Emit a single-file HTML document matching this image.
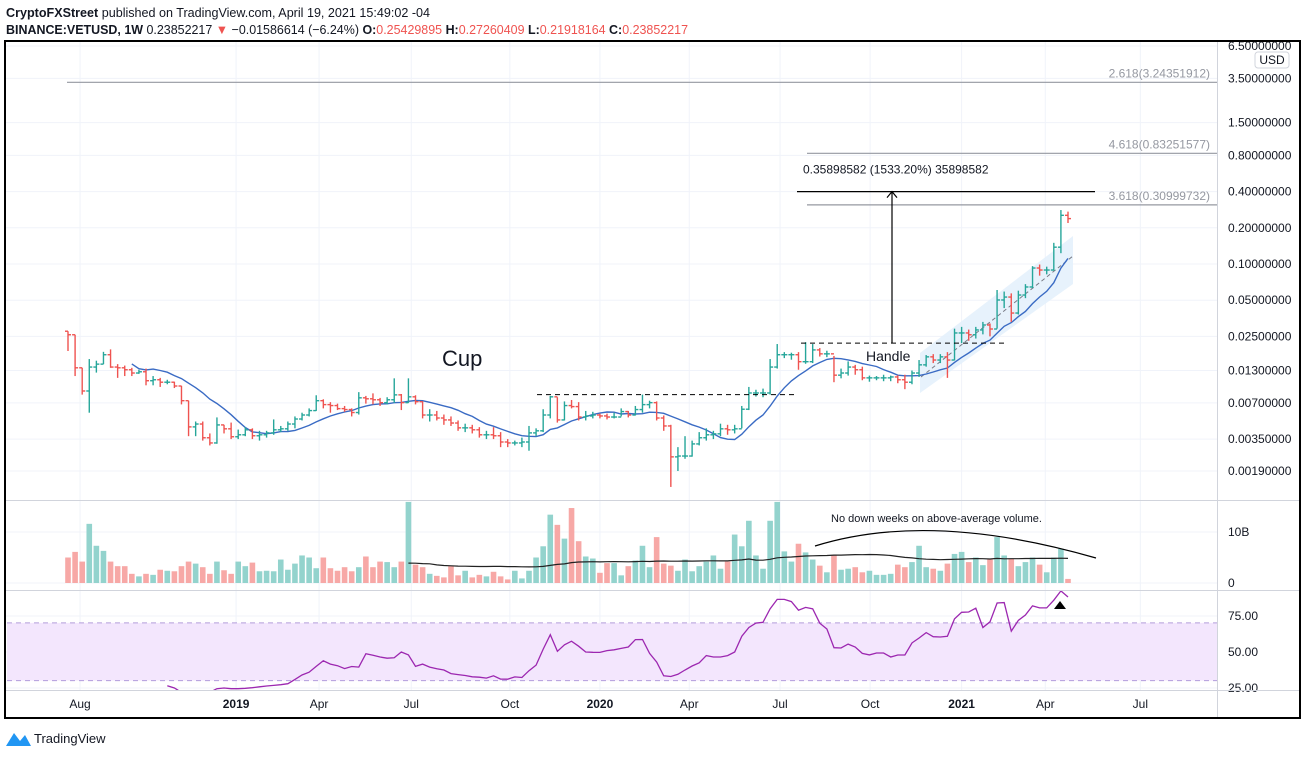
<!DOCTYPE html>
<html><head><meta charset="utf-8"><style>
body{margin:0;background:#fff;width:1307px;height:755px;overflow:hidden;font-family:"Liberation Sans",sans-serif}
svg text{font-family:"Liberation Sans",sans-serif}
</style></head><body>
<svg id="chart" width="1307" height="755" xmlns="http://www.w3.org/2000/svg">
<defs>
<clipPath id="mainClip"><rect x="6" y="42" width="1211" height="458"/></clipPath>
<clipPath id="volClip"><rect x="6" y="501" width="1211" height="89"/></clipPath>
<clipPath id="rsiClip"><rect x="6" y="591" width="1211" height="99"/></clipPath>
</defs>
<text x="6" y="17" font-size="13" fill="#131722" textLength="424" lengthAdjust="spacingAndGlyphs"><tspan font-weight="bold">CryptoFXStreet</tspan> published on TradingView.com, April 19, 2021 15:49:02 -04</text>
<text x="6" y="34" font-size="13" fill="#131722" textLength="682" lengthAdjust="spacingAndGlyphs"><tspan font-weight="bold">BINANCE:VETUSD, 1W</tspan> 0.23852217 <tspan fill="#ef5350">▼</tspan> −0.01586614 (−6.24%) <tspan font-weight="bold">O:</tspan><tspan fill="#ef5350">0.25429895</tspan> <tspan font-weight="bold">H:</tspan><tspan fill="#ef5350">0.27260409</tspan> <tspan font-weight="bold">L:</tspan><tspan fill="#ef5350">0.21918164</tspan> <tspan font-weight="bold">C:</tspan><tspan fill="#ef5350">0.23852217</tspan></text>
<g id="grid"></g>
<rect x="7" y="622.9" width="1210" height="57.7" fill="#f3e6fd"/>
<line x1="7" x2="1217" y1="622.9" y2="622.9" stroke="#b39ddb" stroke-dasharray="5,4"/>
<line x1="7" x2="1217" y1="680.6" y2="680.6" stroke="#b39ddb" stroke-dasharray="5,4"/>
<g id="main" clip-path="url(#mainClip)"></g>
<g id="vol" clip-path="url(#volClip)"></g>
<g id="rsi" clip-path="url(#rsiClip)"></g>
<g id="axes"></g>
<line x1="6" x2="1300" y1="500.5" y2="500.5" stroke="#d1d4dc"/>
<line x1="6" x2="1300" y1="590.5" y2="590.5" stroke="#d1d4dc"/>
<line x1="6" x2="1300" y1="690.5" y2="690.5" stroke="#d1d4dc"/>
<line x1="1217.5" x2="1217.5" y1="42" y2="718" stroke="#d1d4dc"/>
<rect x="5" y="41" width="1295" height="677" fill="none" stroke="#000" stroke-width="2"/>
<rect x="1255" y="52" width="34" height="16" rx="3" fill="#fff" stroke="#d1d4dc"/>
<text x="1272" y="64" font-size="12" text-anchor="middle" fill="#131722">USD</text>
<g>
<path d="M6 746 L14 733 L20 741 L25 735 L31 746 Z" fill="#2196f3"/>
<text x="34" y="743" font-size="13" fill="#131722">TradingView</text>
</g>
</svg>
<script>
const closes=[0.0258,0.0137,0.00879,0.0139,0.0147,0.0176,0.0139,0.0137,0.0132,0.0124,
0.0127,0.0107,0.0109,0.0104,0.0104,0.00967,0.0073,0.00442,0.00467,0.00359,
0.00325,0.00459,0.00426,0.00366,0.0038,0.00418,0.00373,0.0038,0.00394,0.00418,
0.00426,0.00467,0.00514,0.00555,0.00604,0.0073,0.00677,0.00665,0.00627,0.00616,
0.00582,0.00771,0.00757,0.00743,0.00703,0.00743,0.00816,
0.00703,0.00786,0.00716,0.00555,0.00555,0.00524,0.00505,0.00476,0.00434,0.00434,
0.00418,0.0038,0.0038,0.00373,0.00331,0.00325,0.00325,0.00331,0.00394,0.0041,
0.00555,0.00786,0.00505,0.00665,0.00652,0.00534,0.00545,0.00555,0.00545,0.00534,
0.00534,0.00593,0.00555,0.00616,0.00677,0.00703,0.00524,0.0045,0.00249,0.00253,
0.00253,0.00319,0.00359,0.0038,0.00387,0.00426,0.00418,0.00426,
0.0062,0.00846,0.00846,0.00846,0.0139,0.0176,0.0176,0.0176,0.0154,0.0154,
0.0193,0.0179,0.0179,0.0119,0.0124,0.0139,0.0132,0.0113,0.0113,0.0113,
0.0113,0.0115,0.0109,0.0104,0.0124,0.0145,0.0169,0.0159,0.0169,0.0159,
0.0267,0.0267,0.0258,0.0283,0.0311,0.0288,0.0502,0.0531,0.0391,0.0552,
0.0644,0.0926,0.0891,0.0891,0.138,0.254,0.2385];
const highs=[0.0276,0.0258,0.0137,0.0162,0.0157,0.0186,0.0195,0.0147,0.0143,0.0137,
0.0132,0.0135,0.0117,0.0113,0.0109,0.0105,0.0097,0.0073,0.0049,0.0049,
0.0039,0.0053,0.0046,0.0048,0.0042,0.0044,0.0043,0.0041,0.0041,0.0051,
0.0045,0.0049,0.0054,0.0058,0.0063,0.0081,0.0075,0.0071,0.0069,0.0066,
0.0063,0.0086,0.0080,0.0084,0.0077,0.0078,0.0112,
0.0083,0.0112,0.0081,0.0072,0.0062,0.0060,0.0056,0.0054,0.0050,0.0047,
0.0046,0.0044,0.0041,0.0044,0.0040,0.0035,0.0034,0.0036,0.0045,0.0043,
0.0062,0.0080,0.0078,0.0072,0.0074,0.0071,0.0060,0.0059,0.0057,0.0057,
0.0058,0.0063,0.0060,0.0066,0.0082,0.0073,0.0072,0.0055,0.0046,0.0030,
0.0037,0.0034,0.0040,0.0043,0.0041,0.0047,0.0046,0.0046,
0.0066,0.0095,0.0090,0.0092,0.0162,0.0216,0.0185,0.0183,0.0185,0.0224,
0.0216,0.0200,0.0190,0.0172,0.0135,0.0155,0.0145,0.0140,0.0118,0.0117,
0.0120,0.0118,0.0119,0.0120,0.0130,0.0159,0.0175,0.0178,0.0178,0.0185,
0.0290,0.0300,0.0285,0.0300,0.0330,0.0320,0.0608,0.0590,0.0570,0.0600,
0.0680,0.0960,0.0990,0.0950,0.150,0.281,0.2726];
const lows=[0.0189,0.0117,0.0082,0.0058,0.0125,0.0147,0.0137,0.0113,0.0117,0.0117,
0.0122,0.0098,0.0098,0.0095,0.0100,0.0093,0.0068,0.0037,0.0037,0.0034,
0.0031,0.0032,0.0039,0.0035,0.0035,0.0037,0.0035,0.0034,0.0036,0.0038,
0.0040,0.0041,0.0043,0.0050,0.0054,0.0060,0.0063,0.0058,0.0061,0.0059,
0.0054,0.0056,0.0069,0.0068,0.0066,0.0068,0.0070,
0.0061,0.0070,0.0068,0.0052,0.0049,0.0050,0.0046,0.0045,0.0041,0.0040,
0.0039,0.0036,0.0035,0.0035,0.0030,0.0030,0.0031,0.0030,0.0028,0.0037,
0.0040,0.0052,0.0048,0.0050,0.0063,0.0050,0.0050,0.0052,0.0052,0.0051,
0.0052,0.0054,0.0053,0.0055,0.0058,0.0063,0.0050,0.0041,0.0014,0.0019,
0.0024,0.0025,0.0031,0.0034,0.0035,0.0037,0.0038,0.0039,
0.0043,0.0061,0.0079,0.0078,0.0082,0.0135,0.0165,0.0160,0.0132,0.0148,
0.0150,0.0170,0.0168,0.0104,0.0112,0.0118,0.0120,0.0108,0.0105,0.0108,
0.0106,0.0106,0.0102,0.0091,0.0100,0.0115,0.0140,0.0150,0.0150,0.0113,
0.0158,0.0220,0.0230,0.0240,0.0260,0.0250,0.0290,0.0430,0.0330,0.0380,
0.0520,0.0630,0.0800,0.0820,0.088,0.123,0.2192];
const volumes=[5.0,6.1,4.2,11.6,7.3,6.3,4.2,3.3,3.3,1.8,
1.3,1.8,1.6,2.6,2.4,2.3,3.3,4.2,3.8,3.1,
1.8,4.2,2.5,1.8,4.2,3.3,4.0,2.3,2.4,2.3,
4.6,2.6,3.8,5.4,5.0,2.9,5.0,2.9,2.4,3.1,
2.3,3.1,5.2,3.1,4.2,4.1,3.1,4.2,15.9,3.6,
3.1,1.8,1.4,1.1,3.3,1.5,2.4,1.1,1.6,1.3,
2.2,1.3,0.7,2.4,0.9,2.4,5.0,7.2,13.4,11.4,
8.7,14.7,8.2,5.2,4.8,2.0,3.9,3.9,1.5,3.3,
4.4,7.3,
3.1,9.0,3.8,3.4,2.4,4.6,2.3,3.3,4.2,5.4,
2.8,4.2,9.5,7.2,12.2,5.4,2.8,12.2,15.9,6.2,
4.2,7.7,6.0,4.6,3.4,2.1,5.4,2.6,2.8,3.1,
2.1,2.4,1.6,1.6,1.8,3.6,3.1,4.1,7.3,3.1,
2.8,2.4,3.8,5.7,6.1,4.1,5.0,3.5,4.6,9.0,
5.4,4.8,3.3,4.1,5.0,3.6,2.1,5.0,6.7,0.8];
const rsiStart=14;
const rsiValues=[26.6,25,22,20,19,20,22,24.5,25,24.5,24.5,24.8,25.2,25.8,26.4,26.8,27.3,28,31,34,
36,40,43.9,41.6,40.5,38.5,39.9,39.5,48.8,47.8,46.5,45.7,46,50,48,40,41.6,39.5,38.3,37.5,
35,34.3,33.7,32.8,32.5,31.9,33.5,31.2,31.1,32.7,32.3,37,40.9,52,62,50.5,55,57.5,54,50,
49.8,49.7,51,51.5,52.5,53.5,58.6,58.7,49,43,33.5,33,34.5,37.5,40.3,42.5,47.5,46.5,46.5,47.5,
50,61,67,70.1,70.6,80,86.5,86.5,85,79,81,80,70,66,53,52.8,55.5,53.5,49,48,
49.3,49.3,46.5,47.9,47.9,56.3,59.7,63.5,60.6,60.4,60.9,73,77.6,77.8,80.4,67,71,84,84.3,64.5,
72,75.7,82,80.6,80.6,86,92.4,88.2];
const priceTicks=[6.5,3.5,1.5,0.8,0.4,0.2,0.1,0.05,0.025,0.013,0.007,0.0035,0.0019];
const timeTickLabels=["Aug","2019","Apr","Jul","Oct","2020","Apr","Jul","Oct","2021","Apr","Jul"];
const timeTickBars=[1.7,23.7,35.4,48.4,62.3,75,87.6,100.4,113.1,126,137.8,151.2];
const rsiTicks=[75,50,25];
const volTicks=[10,0];
const volTickLabels=["10B","0"];
const fibLevels=[3.24351912,0.83251577,0.30999732];
const fibNames=["2.618","4.618","3.618"];
const targetPrice=0.40;
const handlePrice=0.022;
const cupRimPrice=0.0082;

const NS="http://www.w3.org/2000/svg";
const n=closes.length;
const X0=68,X1=1068;
const step=(X1-X0)/(n-1);
function xOf(i){return X0+i*step;}
function yPrice(p){return 264-36.2*Math.log2(p/0.1);}
function yVol(v){return 583-v*5.1;}
function yRsi(r){return 616+(75-r)*1.44;}
function mk(tag,attrs,parent){const e=document.createElementNS(NS,tag);for(const k in attrs)e.setAttribute(k,attrs[k]);parent.appendChild(e);return e;}
const grid=document.getElementById('grid'),main=document.getElementById('main'),vol=document.getElementById('vol'),rsiG=document.getElementById('rsi'),axes=document.getElementById('axes');

priceTicks.forEach(p=>{
  const y=yPrice(p);
  if(y>44&&y<500){const l=mk('line',{x1:6,x2:1217,y1:y,y2:y,stroke:'#f0f3fa'},grid);
  
  }
  const t=mk('text',{x:1228,y:y+4,'font-size':12,fill:'#131722'},axes);
  t.textContent=p.toFixed(8);
  
  
});
volTicks.forEach((v,k)=>{
  const y=yVol(v);
  const l=mk('line',{x1:6,x2:1217,y1:y,y2:y,stroke:'#f0f3fa'},grid);
  
  
  const t=mk('text',{x:1228,y:y+4,'font-size':12,fill:'#131722'},axes);
  t.textContent=volTickLabels[k];
  
  
});
rsiTicks.forEach(r=>{
  const y=yRsi(r);
  const l=mk('line',{x1:6,x2:1217,y1:y,y2:y,stroke:'#f0f3fa'},grid);
  
  
  const t=mk('text',{x:1228,y:y+4,'font-size':12,fill:'#131722'},axes);
  t.textContent=r.toFixed(2);
  
  
});
timeTickBars.forEach((b,k)=>{
  const x=xOf(b);
  const l=mk('line',{x1:x,x2:x,y1:42,y2:690,stroke:'#f0f3fa'},grid);
  
  
  const bold=/^\d{4}$/.test(timeTickLabels[k]);
  const t=mk('text',{x:x,y:708,'font-size':12,'text-anchor':'middle',fill:'#131722','font-weight':bold?'bold':'normal'},axes);
  t.textContent=timeTickLabels[k];
  
  
});

const fibStart=[67,807,807];
fibLevels.forEach((p,k)=>{
  const y=yPrice(p);
  const l=mk('line',{x1:fibStart[k],x2:1217,y1:y,y2:y,stroke:'#9598a1','stroke-width':1.2},main);
  
  
  const t=mk('text',{x:1210,y:y-5,'font-size':12,'text-anchor':'end',fill:'#9598a1'},main);
  t.textContent=fibNames[k]+'('+p.toFixed(8)+')';
  
  
});

const ch=mk('polygon',{points:'920,393 920,353 1073,236 1073,284',fill:'#e3f0fc',opacity:0.85},main);


const chm=mk('line',{x1:921,y1:377,x2:1073,y2:256,stroke:'#787b86','stroke-dasharray':'4,3'},main);



let maPts=[];
for(let i=9;i<n;i++){let s=0;for(let j=i-9;j<=i;j++)s+=closes[j];maPts.push(xOf(i).toFixed(1)+','+yPrice(s/10).toFixed(1));}
const ma=mk('polyline',{points:maPts.join(' '),fill:'none',stroke:'#3a6bc4','stroke-width':1.4},main);



for(let i=0;i<n;i++){
  const o=i>0?closes[i-1]:closes[i]*1.07, c=closes[i];
  const up=c>=o, col=up?'#26a69a':'#ef5350', x=xOf(i);
  const g=mk('g',{stroke:col,'stroke-width':1.4},main);
  
  
  mk('line',{x1:x,x2:x,y1:yPrice(highs[i]),y2:yPrice(lows[i])},g);
  mk('line',{x1:x-3,x2:x,y1:yPrice(o),y2:yPrice(o)},g);
  mk('line',{x1:x,x2:x+3,y1:yPrice(c),y2:yPrice(c)},g);
  const r=mk('rect',{x:x-2.8,y:yVol(volumes[i]),width:5.6,height:583-yVol(volumes[i]),fill:up?'#93d3cd':'#f7a8a6'},vol);
  
  
}
let vm=[];
for(let i=48;i<n;i++){let s=0;for(let j=i-48;j<=i;j++)s+=volumes[j];vm.push(xOf(i).toFixed(1)+','+yVol(s/49).toFixed(1));}
const vml=mk('polyline',{points:vm.join(' '),fill:'none',stroke:'#222','stroke-width':1.2},vol);


const arc=mk('path',{d:'M815 546 Q930 510 1096 558',fill:'none',stroke:'#000','stroke-width':1.2},vol);


const vt=mk('text',{x:831,y:522,'font-size':11,fill:'#131722'},vol);
vt.textContent='No down weeks on above-average volume.';



let rp=rsiValues.map((r,k)=>xOf(rsiStart+k).toFixed(1)+','+yRsi(r).toFixed(1));
const rl=mk('polyline',{points:rp.join(' '),fill:'none',stroke:'#9c27b0','stroke-width':1.3},rsiG);


const tri=mk('polygon',{points:'1054,609 1060,601 1066,609',fill:'#000'},rsiG);



const yT=yPrice(targetPrice), yH=yPrice(handlePrice), yC=yPrice(cupRimPrice);
const tl=mk('line',{x1:797,x2:1095,y1:yT,y2:yT,stroke:'#000','stroke-width':1.2},main);


const tt=mk('text',{x:803,y:yT-18,'font-size':12,fill:'#131722'},main);
tt.textContent='0.35898582 (1533.20%) 35898582';


const ar=mk('line',{x1:892,x2:892,y1:yH,y2:yT,stroke:'#000','stroke-width':1.2},main);


const ah=mk('polyline',{points:`887,${yT+6} 892,${yT} 897,${yT+6}`,fill:'none',stroke:'#000','stroke-width':1.2},main);


const hd=mk('line',{x1:801,x2:1005,y1:yH,y2:yH,stroke:'#000','stroke-dasharray':'5,4'},main);


const cd=mk('line',{x1:537,x2:795,y1:yC,y2:yC,stroke:'#000','stroke-dasharray':'5,4'},main);


const cup=mk('text',{x:442,y:366,'font-size':22,fill:'#131722'},main);
cup.textContent='Cup';


const hl=mk('text',{x:866,y:361,'font-size':14,fill:'#131722'},main);
hl.textContent='Handle';


</script>
</body></html>
